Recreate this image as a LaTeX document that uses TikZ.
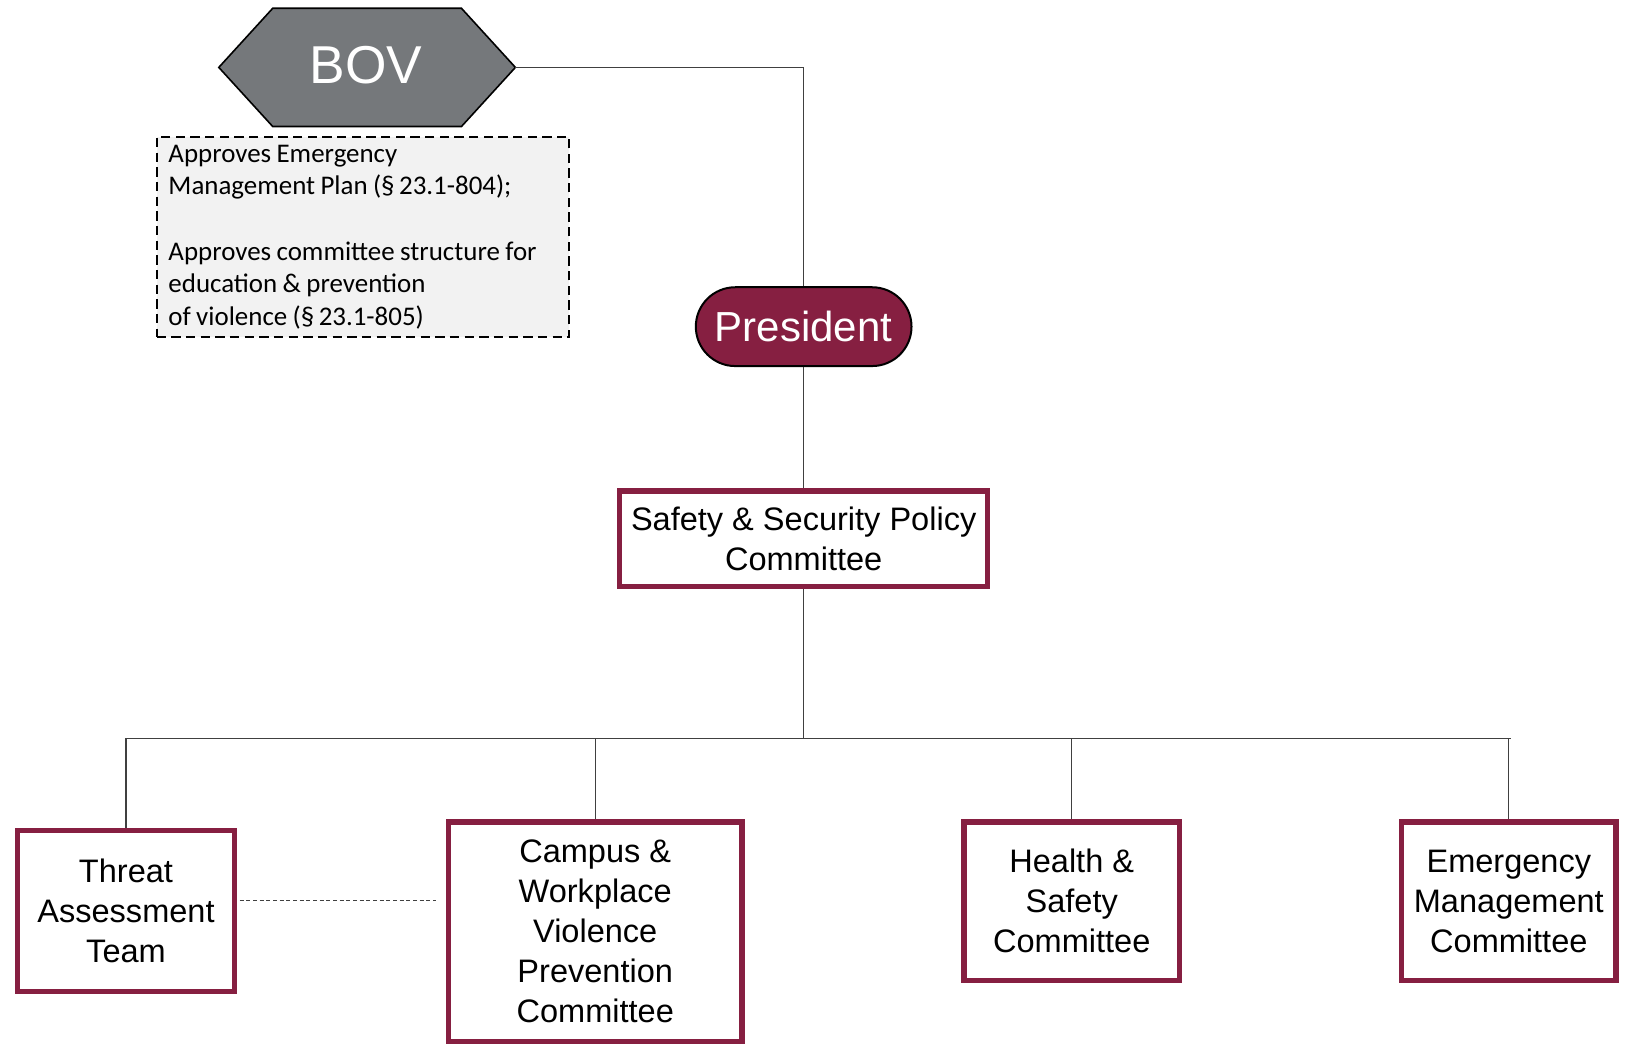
\documentclass[tikz,border=0pt]{standalone}
\usepackage{fontspec}
\setmainfont{Liberation Sans}
\newfontfamily\calib{Carlito}
\usetikzlibrary{shapes.misc}
\definecolor{vtmaroon}{HTML}{861F41}
\definecolor{hokiegray}{HTML}{75787B}
\definecolor{notefill}{HTML}{F2F2F2}
\definecolor{connclr}{HTML}{404040}
\def\U{0.7778pt}
\begin{document}
\begin{tikzpicture}[x=0.7778pt,y=-0.7778pt,
  comm/.style={draw=vtmaroon, line width=4.1pt, fill=white, align=center,
    inner sep=0pt, font=\fontsize{24.4}{30}\selectfont},
  presbox/.style={rounded rectangle, fill=vtmaroon, draw=black, line width=1.5pt,
    minimum width=208*\U, minimum height=76*\U, inner sep=0pt, text=white,
    font=\fontsize{31.5}{36}\selectfont},
  notebox/.style={draw=black, dash pattern=on 7pt off 4pt, line width=1.5pt,
    fill=notefill, text width=375*\U, minimum height=193*\U, inner xsep=11.5*\U,
    inner ysep=0pt, align=left, font=\calib\fontsize{20.2}{24.5}\selectfont},
  conn/.style={draw=connclr, line width=0.8pt},
  linkdash/.style={draw=connclr, line width=0.6pt, dash pattern=on 3pt off 2pt}
]
\useasboundingbox (0,0) rectangle (1568,1014);

% BOV hexagon
\filldraw[fill=hokiegray, draw=black, line width=1.2pt]
  (211,65) -- (263,8) -- (445,8) -- (497,65) -- (445,122) -- (263,122) -- cycle;
\node[text=white, font=\fontsize{40}{46}\selectfont, inner sep=0pt] (bov) at (353,63) {BOV};
\coordinate (bovR) at (497,65);

% note
\node[notebox, anchor=north west] (note) at (150,131) {\spaceskip=0.2em plus 0.1em minus 0.05em
Approves Emergency\\
Management Plan (§\,23.1-804);\\
\mbox{}\\
Approves committee structure for\\
education \& prevention\\
of violence (§\,23.1-805)};

% President
\node[presbox] (pres) at (775,315) {President};

% Safety & Security Policy Committee
\node[comm, minimum width=355*\U, minimum height=92*\U] (sspc) at (775,519.5)
  {Safety \& Security Policy\\Committee};

% bottom committees
\node[comm, minimum width=209*\U, minimum height=155*\U] (threat) at (121.5,878.5)
  {Threat\\Assessment\\Team};
\node[comm, minimum width=283*\U, minimum height=212*\U] (campus) at (574,898.5)
  {Campus \&\\Workplace\\Violence\\Prevention\\Committee};
\node[comm, minimum width=208*\U, minimum height=153*\U] (health) at (1033.5,869)
  {Health \&\\Safety\\Committee};
\node[comm, minimum width=207*\U, minimum height=153*\U] (emerg) at (1455,869)
  {Emergency\\Management\\Committee};

% connectors
\draw[conn] (bovR) -| (pres.north);
\draw[conn] (pres.south) -- (sspc.north);
\coordinate (busL) at (121,712);
\coordinate (busR) at (1457,712);
\draw[conn] (busL) -- (busR);
\draw[conn] (sspc.south) -- (sspc.south |- busL);
\draw[conn] (threat.north) -- (threat.north |- busL);
\draw[conn] (campus.north) -- (campus.north |- busL);
\draw[conn] (health.north) -- (health.north |- busL);
\draw[conn] (emerg.north) -- (emerg.north |- busL);
\coordinate (dl) at (0,868);
\draw[linkdash, shorten <=2.5*\U, shorten >=9.5*\U] (threat.east |- dl) -- (campus.west |- dl);
\end{tikzpicture}
\end{document}
